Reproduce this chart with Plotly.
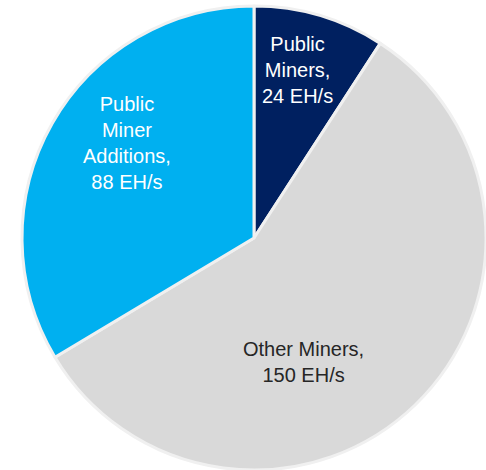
import plotly.graph_objects as go

# Hash rate breakdown (EH/s)
labels = ["Public Miners", "Other Miners", "Public Miner Additions"]
values = [24, 150, 88]
colors = ["#002060", "#D9D9D9", "#00B0F0"]
text_colors = ["#FFFFFF", "#262626", "#FFFFFF"]
# Label line breaks for each slice
label_lines = [["Public", "Miners,"], ["Other Miners,"], ["Public", "Miner", "Additions,"]]
# Label anchor points in paper coordinates
label_pos = [(0.613, 0.851), (0.624, 0.229), (0.261, 0.695)]

W, H = 486, 470
FONT = "Liberation Sans, Arial, sans-serif"

fig = go.Figure(
    go.Pie(
        labels=labels,
        values=values,
        sort=False,
        direction="clockwise",
        rotation=0,
        marker=dict(colors=colors, line=dict(color="#F0F0F0", width=3)),
        textinfo="none",
        hoverinfo="label+value",
        showlegend=False,
        domain=dict(x=[22 / W, 1], y=[0, 464 / H]),
    )
)

for lines, val, col, (px, py) in zip(label_lines, values, text_colors, label_pos):
    fig.add_annotation(
        x=px, y=py, xref="paper", yref="paper",
        text="<br>".join(lines + [f"{val} EH/s"]),
        showarrow=False, xanchor="center", yanchor="middle",
        font=dict(family=FONT, size=20, color=col),
    )

fig.update_layout(
    width=W, height=H,
    margin=dict(l=0, r=0, t=0, b=0),
    paper_bgcolor="white",
    plot_bgcolor="white",
)

fig.write_html("out.html")
